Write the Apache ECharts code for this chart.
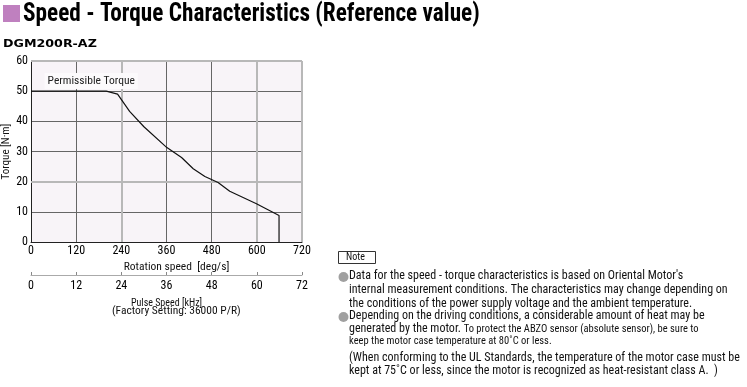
<!DOCTYPE html>
<html>
<head>
<meta charset="utf-8">
<script src="https://cdn.jsdelivr.net/npm/echarts@6/dist/echarts.min.js"></script>
<style>
html,body{margin:0;padding:0;background:#fff;}
#chart{width:747px;height:387px;}
</style>
</head>
<body>
<div id="chart"></div>
<script>
// Data
const speedDeg = [0, 200, 230, 262, 300, 361, 400, 431, 462, 497, 528, 599, 659, 659];
const torqueNm = [50, 50, 49, 43.3, 38.2, 31.3, 28, 24.3, 21.7, 19.7, 16.8, 12.7, 8.8, 0];
const speedTicks = [0, 120, 240, 360, 480, 600, 720];
const pulseTicks = [0, 12, 24, 36, 48, 60, 72];
const torqueTicks = [0, 10, 20, 30, 40, 50, 60];
const lightSpeedLines = [240, 600, 720];
const lightTorqueLines = [20, 60];
const labelPos = [160, 53.4];

const titleText = 'Speed - Torque Characteristics (Reference value)';
const modelText = 'DGM200R-AZ';
const noteLines = [
  'Data for the speed - torque characteristics is based on Oriental Motor\'s',
  'internal measurement conditions. The characteristics may change depending on',
  'the conditions of the power supply voltage and the ambient temperature.',
  'Depending on the driving conditions, a considerable amount of heat may be',
  'generated by the motor. {s|To protect the ABZO sensor (absolute sensor), be sure to}',
  '{s|keep the motor case temperature at 80˚C or less.}',
  '(When conforming to the UL Standards, the temperature of the motor case must be',
  'kept at 75˚C or less, since the motor is recognized as heat-resistant class A.  )'
];
const bulletLines = [0, 3];

const FN = '"Liberation Sans Narrow", "Roboto Condensed", sans-serif';
const dark = '#666';
const light = '#b8b8b8';

const chart = echarts.init(document.getElementById('chart'), null, {renderer: 'canvas'});

const lineYs = [277, 291, 305, 317, 330, 343, 359, 372];
const noteGraphics = [];
noteLines.forEach((t, i) => {
  noteGraphics.push({
    type: 'text', left: 349, top: lineYs[i] - 7,
    style: {
      text: t, fill: '#111', font: '12px ' + FN,
      rich: {s: {fill: '#111', fontSize: 10.5, fontFamily: FN}}
    }
  });
});
bulletLines.forEach(i => {
  noteGraphics.push({type: 'circle', shape: {cx: 343.5, cy: lineYs[i], r: 5}, style: {fill: '#a0a0a0'}});
});

chart.setOption({
  animation: false,
  backgroundColor: '#fff',
  grid: {left: 30, top: 61, width: 272, height: 181, containLabel: false,
         show: true, backgroundColor: '#f8f4f8', borderWidth: 0},
  graphic: [
    {type: 'rect', left: 3, top: 5, shape: {width: 17, height: 17}, style: {fill: '#bf80bf'}},
    {type: 'text', x: 23, y: 2, scaleX: 0.93, style: {text: titleText, fill: '#000', font: 'bold 25px ' + FN}},
    {type: 'text', x: 3, y: 39, scaleX: 1.15, style: {text: modelText, fill: '#000', font: 'bold 11px "DejaVu Sans"'}},
    {type: 'text', left: 112, top: 305, style: {text: '(Factory Setting: 36000 P/R)', fill: '#111', font: '11.5px ' + FN}},
    {type: 'rect', left: 338, top: 251, shape: {width: 37, height: 12}, style: {fill: '#fff', stroke: '#333', lineWidth: 1}},
    {type: 'text', left: 346, top: 252, style: {text: 'Note', fill: '#111', font: '10px ' + FN}}
  ].concat(noteGraphics),
  xAxis: [
    {
      type: 'value', min: speedTicks[0], max: speedTicks[speedTicks.length - 1], interval: 120,
      name: 'Rotation speed  [deg/s]', nameLocation: 'middle', nameGap: 19,
      nameTextStyle: {fontFamily: FN, fontSize: 11.5, color: '#111', padding: [0, 0, 0, 20]},
      axisLine: {show: true, lineStyle: {color: '#222', width: 1}},
      axisTick: {show: false},
      axisLabel: {fontFamily: FN, fontSize: 12, color: '#000', margin: 3},
      splitLine: {show: true, lineStyle: {color: dark, width: 1}}
    },
    {
      type: 'value', position: 'bottom', offset: 33,
      min: pulseTicks[0], max: pulseTicks[pulseTicks.length - 1], interval: 12,
      name: 'Pulse Speed [kHz]', nameLocation: 'middle', nameGap: 23,
      nameTextStyle: {fontFamily: FN, fontSize: 10, color: '#111'},
      axisLine: {show: true, lineStyle: {color: '#aaa', width: 1}},
      axisTick: {show: true, inside: true, length: 3, lineStyle: {color: '#888'}},
      axisLabel: {fontFamily: FN, fontSize: 12, color: '#000', margin: 5},
      splitLine: {show: false}
    }
  ],
  yAxis: {
    type: 'value', min: torqueTicks[0], max: torqueTicks[torqueTicks.length - 1], interval: 10,
    name: 'Torque [N·m]', nameLocation: 'middle', nameGap: 19,
    nameTextStyle: {fontFamily: FN, fontSize: 11, color: '#111'},
    axisLine: {show: true, lineStyle: {color: '#222', width: 1}},
    axisTick: {show: false},
    axisLabel: {fontFamily: FN, fontSize: 12, color: '#000', margin: 3},
    splitLine: {show: true, lineStyle: {color: dark, width: 1}}
  },
  series: [{
    type: 'line', xAxisIndex: 0, yAxisIndex: 0,
    data: speedDeg.map((x, i) => [x, torqueNm[i]]),
    showSymbol: false, symbol: 'none', smooth: false, z: 5,
    lineStyle: {color: '#111', width: 1.2},
    markLine: {
      silent: true, symbol: 'none', animation: false, z: 1,
      label: {show: false},
      lineStyle: {color: light, width: 2, type: 'solid'},
      data: lightSpeedLines.map(v => ({xAxis: v})).concat(lightTorqueLines.map(v => ({yAxis: v})))
    },
    markPoint: {
      symbol: 'rect', symbolSize: [1, 1], itemStyle: {color: 'rgba(0,0,0,0)'},
      data: [{coord: labelPos, value: 'Permissible Torque'}],
      label: {show: true, position: 'inside', formatter: 'Permissible Torque',
        fontFamily: FN, fontSize: 11.5, color: '#222',
        backgroundColor: '#fcfafc', padding: [2, 3]}
    }
  }]
});
</script>
</body>
</html>
